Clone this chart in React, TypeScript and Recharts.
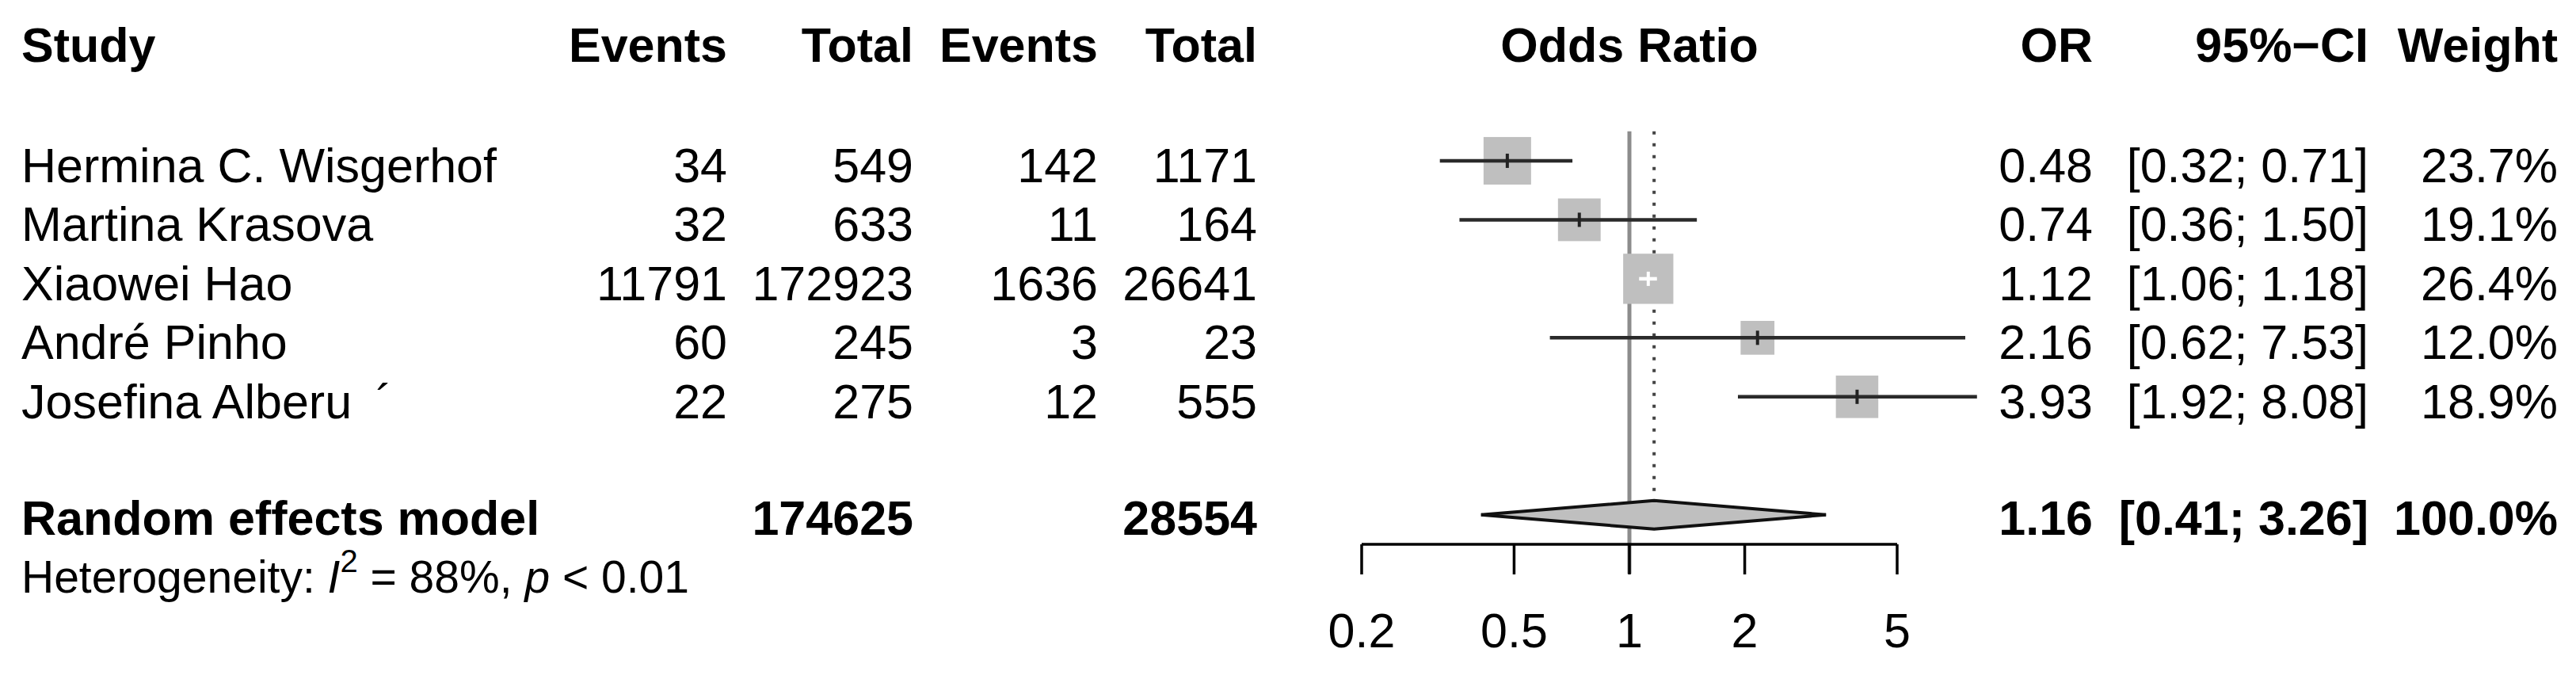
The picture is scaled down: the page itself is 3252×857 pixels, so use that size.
import React from 'react';
import { ComposedChart, XAxis, YAxis, Scatter, Area, ReferenceLine } from 'recharts';

// study table
const studies = ['Hermina C. Wisgerhof', 'Martina Krasova', 'Xiaowei Hao', 'André Pinho', 'Josefina Alberu\u2002´'];
const eventsExp = [34, 32, 11791, 60, 22];
const totalExp = [549, 633, 172923, 245, 275];
const eventsCtrl = [142, 11, 1636, 3, 12];
const totalCtrl = [1171, 164, 26641, 23, 555];
const oddsRatio = [0.48, 0.74, 1.12, 2.16, 3.93];
const ciLower = [0.32, 0.36, 1.06, 0.62, 1.92];
const ciUpper = [0.71, 1.5, 1.18, 7.53, 8.08];
const weights = [23.7, 19.1, 26.4, 12.0, 18.9];

// random effects model
const pooledOR = 1.16;
const pooledCI = [0.41, 3.26];
const pooledWeight = 100;
const pooledTotals = [174625, 28554];
const heterogeneityI2 = 88;
const heterogeneityP = '< 0.01';

const xTicks = [0.2, 0.5, 1, 2, 5];
const headers = ['Study', 'Events', 'Total', 'Events', 'Total', 'Odds Ratio', 'OR', '95%−CI', 'Weight'];

// layout
const W = 3252;
const H = 857;
const PLOT_LEFT = 1719;
const PLOT_RIGHT = 2395;
const PLOT_TOP = 54;
const AXIS_Y = 687;
const X_MIN = xTicks[0];
const X_MAX = xTicks[xTicks.length - 1];
const PX_PER_DECADE = (PLOT_RIGHT - PLOT_LEFT) / Math.log10(X_MAX / X_MIN);
const ROW_PX = (AXIS_Y - PLOT_TOP) / 8.5;
const FONT = '"Liberation Sans", Arial, Helvetica, sans-serif';
const FS = 61;
const COL = { study: 27, ev1: 918, tot1: 1153, ev2: 1386, tot2: 1587, or: 2642, ci: 2990, w: 3229 };
const SQ_K = 60 / Math.sqrt(23.7);
const DIAMOND_HALF = 18 / ROW_PX;
const SQUARE_FILL = '#bfbfbf';

const pooledRow = 8;

const studyData = oddsRatio.map((v, i) => {
  const side = SQ_K * Math.sqrt(weights[i]);
  const ciPx = PX_PER_DECADE * Math.log10(ciUpper[i] / ciLower[i]);
  return { x: v, y: i + 2, w: weights[i], lo: ciLower[i], hi: ciUpper[i], inside: ciPx < side };
});

const diamondData = [
  { x: pooledCI[0], range: [pooledRow, pooledRow] },
  { x: pooledOR, range: [pooledRow - DIAMOND_HALF, pooledRow + DIAMOND_HALF] },
  { x: pooledCI[1], range: [pooledRow, pooledRow] },
];

const textRows = [
  { x: 1, y: 0, kind: 'header', i: -1 },
  ...studies.map((_, i) => ({ x: 1, y: i + 2, kind: 'study', i })),
  { x: 1, y: pooledRow, kind: 'pooled', i: -1 },
];

const fmtCI = (lo: number, hi: number) => `[${lo.toFixed(2)}; ${hi.toFixed(2)}]`;

const T = ({ x, y, children, anchor = 'end', bold = false, size = FS }: any) => (
  <text x={x} y={y} textAnchor={anchor} fontFamily={FONT} fontSize={size} fontWeight={bold ? 700 : 400} fill="#000">
    {children}
  </text>
);

const SquareShape = (p: any) => {
  const s = SQ_K * Math.sqrt(p.payload.w);
  return <rect x={p.cx - s / 2} y={p.cy - s / 2} width={s} height={s} fill={SQUARE_FILL} />;
};

const TickShape = (p: any) => (
  <line x1={p.cx} x2={p.cx} y1={p.cy - 9} y2={p.cy + 9} stroke={p.payload.inside ? '#fff' : '#222'} strokeWidth={4} />
);

const TextShape = (p: any) => {
  const { cx, cy, payload } = p;
  if (payload.kind === 'header') {
    const b = cy + 24;
    return (
      <g>
        <T x={COL.study} y={b} anchor="start" bold>{headers[0]}</T>
        <T x={COL.ev1} y={b} bold>{headers[1]}</T>
        <T x={COL.tot1} y={b} bold>{headers[2]}</T>
        <T x={COL.ev2} y={b} bold>{headers[3]}</T>
        <T x={COL.tot2} y={b} bold>{headers[4]}</T>
        <T x={cx} y={b} anchor="middle" bold>{headers[5]}</T>
        <T x={COL.or} y={b} bold>{headers[6]}</T>
        <T x={COL.ci} y={b} bold>{headers[7]}</T>
        <T x={COL.w} y={b} bold>{headers[8]}</T>
      </g>
    );
  }
  if (payload.kind === 'study') {
    const i = payload.i;
    const b = cy + 27;
    return (
      <g>
        <T x={COL.study} y={b} anchor="start">{studies[i]}</T>
        <T x={COL.ev1} y={b}>{eventsExp[i]}</T>
        <T x={COL.tot1} y={b}>{totalExp[i]}</T>
        <T x={COL.ev2} y={b}>{eventsCtrl[i]}</T>
        <T x={COL.tot2} y={b}>{totalCtrl[i]}</T>
        <T x={COL.or} y={b}>{oddsRatio[i].toFixed(2)}</T>
        <T x={COL.ci} y={b}>{fmtCI(ciLower[i], ciUpper[i])}</T>
        <T x={COL.w} y={b}>{`${weights[i].toFixed(1)}%`}</T>
      </g>
    );
  }
  const b = cy + 25;
  const hb = cy + 98;
  return (
    <g>
      <T x={COL.study} y={b} anchor="start" bold>Random effects model</T>
      <T x={COL.tot1} y={b} bold>{pooledTotals[0]}</T>
      <T x={COL.tot2} y={b} bold>{pooledTotals[1]}</T>
      <T x={COL.or} y={b} bold>{pooledOR.toFixed(2)}</T>
      <T x={COL.ci} y={b} bold>{fmtCI(pooledCI[0], pooledCI[1])}</T>
      <T x={COL.w} y={b} bold>{`${pooledWeight.toFixed(1)}%`}</T>
      <text x={COL.study} y={hb} fontFamily={FONT} fontSize={57} fill="#000">
        <tspan>Heterogeneity: </tspan>
        <tspan fontStyle="italic">I</tspan>
        <tspan fontSize={40} dy={-26}>2</tspan>
        <tspan dy={26}>{` = ${heterogeneityI2}%, `}</tspan>
        <tspan fontStyle="italic">p</tspan>
        <tspan>{` ${heterogeneityP}`}</tspan>
      </text>
    </g>
  );
};

export default function App() {
  return (
    <div style={{ width: W, height: H, background: '#fff' }}>
      <style>{'body{margin:0}'}</style>
      <ComposedChart width={W} height={H} margin={{ top: PLOT_TOP, right: W - PLOT_RIGHT, bottom: 0, left: PLOT_LEFT }}>
        <XAxis
          dataKey="x"
          type="number"
          scale="log"
          domain={[X_MIN, X_MAX]}
          ticks={xTicks}
          interval={0}
          height={H - AXIS_Y}
          tickSize={38}
          tickMargin={49}
          tickFormatter={(v: number) => String(v)}
          axisLine={{ stroke: '#000', strokeWidth: 3.5 }}
          tickLine={{ stroke: '#000', strokeWidth: 3.5 }}
          tick={{ fill: '#000', fontSize: FS, fontFamily: FONT }}
        />
        <YAxis dataKey="y" type="number" domain={[0, 8.5]} reversed hide />
        <ReferenceLine
          segment={[{ x: 1, y: 1.5 }, { x: 1, y: 9 }]}
          stroke="#8c8c8c"
          strokeWidth={5}
          ifOverflow="visible"
          zIndex={1}
        />
        <ReferenceLine
          segment={[{ x: pooledOR, y: 1.5 }, { x: pooledOR, y: pooledRow - DIAMOND_HALF }]}
          stroke="#444"
          strokeWidth={4}
          strokeDasharray="4 11"
          ifOverflow="visible"
          zIndex={2}
        />
        <Area
          data={diamondData}
          dataKey="range"
          type="linear"
          stroke="#111"
          strokeWidth={4}
          fill={SQUARE_FILL}
          fillOpacity={1}
          dot={false}
          activeDot={false}
          isAnimationActive={false}
          zIndex={3}
        />
        <Scatter data={studyData} shape={SquareShape} isAnimationActive={false} zIndex={4} />
        {studyData.map((d, i) => (
          <ReferenceLine
            key={`ci-${i}`}
            segment={[{ x: d.lo, y: d.y }, { x: d.hi, y: d.y }]}
            stroke={d.inside ? '#fff' : '#2a2a2a'}
            strokeWidth={4.5}
            ifOverflow="visible"
            zIndex={5}
          />
        ))}
        <Scatter data={studyData} shape={TickShape} isAnimationActive={false} zIndex={6} />
        <Scatter data={textRows} shape={TextShape} isAnimationActive={false} zIndex={7} />
      </ComposedChart>
    </div>
  );
}
